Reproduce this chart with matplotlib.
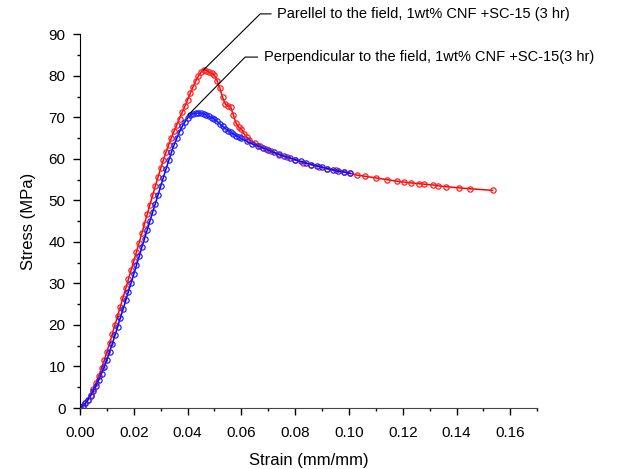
# -*- coding: utf-8 -*-
import matplotlib
matplotlib.use("Agg")
import matplotlib.pyplot as plt

plt.rcParams['font.family'] = ['Liberation Sans', 'DejaVu Sans']

# Parallel to the field (red)
par_strain = [0.000, 0.001, 0.002, 0.003, 0.004, 0.005, 0.006, 0.007, 0.008, 0.009,
              0.010, 0.011, 0.012, 0.013, 0.014, 0.015, 0.016, 0.017, 0.018, 0.019,
              0.020, 0.021, 0.022, 0.023, 0.024, 0.025, 0.026, 0.027, 0.028, 0.029,
              0.030, 0.031, 0.032, 0.033, 0.034, 0.035, 0.036, 0.037, 0.038, 0.039,
              0.040, 0.041, 0.042, 0.043, 0.044, 0.045, 0.046, 0.047, 0.048, 0.049,
              0.050, 0.051, 0.052, 0.053, 0.054, 0.055, 0.056, 0.057, 0.058, 0.059,
              0.060, 0.061, 0.062, 0.063, 0.065, 0.067, 0.069, 0.071, 0.074, 0.077,
              0.080, 0.083, 0.086, 0.089, 0.092, 0.095, 0.098, 0.1005, 0.1028, 0.106,
              0.110, 0.114, 0.118, 0.1205, 0.123, 0.126, 0.128, 0.1314, 0.133, 0.136,
              0.141, 0.145, 0.1534]
par_stress = [0.0, 0.4, 1.1, 2.0, 3.2, 4.6, 6.1, 7.8, 9.6, 11.5,
              13.5, 15.6, 17.8, 20.0, 22.2, 24.4, 26.6, 28.8, 31.0, 33.2,
              35.4, 37.6, 39.8, 42.1, 44.4, 46.7, 49.0, 51.2, 53.4, 55.6,
              57.7, 59.7, 61.6, 63.4, 65.1, 66.7, 68.2, 69.7, 71.2, 72.7,
              74.2, 75.8, 77.3, 78.7, 79.9, 80.9, 81.4, 81.2, 80.8, 80.6,
              80.1, 78.8, 77.0, 74.8, 73.2, 72.8, 72.4, 70.6, 68.6, 67.6,
              67.2, 66.0, 65.2, 64.6, 63.8, 63.0, 62.4, 61.8, 61.0, 60.4,
              59.7, 59.1, 58.6, 58.1, 57.6, 57.3, 56.9, 56.5, 56.1, 55.8,
              55.4, 55.0, 54.6, 54.4, 54.2, 54.0, 53.9, 53.7, 53.5, 53.3,
              53.0, 52.8, 52.4]

# Perpendicular to the field (blue)
perp_strain = [0.000, 0.001, 0.002, 0.003, 0.004, 0.005, 0.006, 0.007, 0.008, 0.009,
               0.010, 0.011, 0.012, 0.013, 0.014, 0.015, 0.016, 0.017, 0.018, 0.019,
               0.020, 0.021, 0.022, 0.023, 0.024, 0.025, 0.026, 0.027, 0.028, 0.029,
               0.030, 0.031, 0.032, 0.033, 0.034, 0.035, 0.036, 0.037, 0.038, 0.039,
               0.040, 0.041, 0.042, 0.043, 0.044, 0.045, 0.046, 0.047, 0.048, 0.049,
               0.050, 0.051, 0.052, 0.053, 0.054, 0.055, 0.056, 0.057, 0.058, 0.059,
               0.060, 0.062, 0.064, 0.066, 0.068, 0.070, 0.072, 0.074, 0.076, 0.078,
               0.080, 0.082, 0.084, 0.086, 0.088, 0.090, 0.092, 0.094, 0.096, 0.098,
               0.1005]
perp_stress = [0.0, 0.5, 1.2, 2.0, 3.0, 4.1, 5.4, 6.8, 8.3, 9.9,
               11.6, 13.5, 15.5, 17.5, 19.6, 21.7, 23.8, 25.9, 28.0, 30.1,
               32.2, 34.4, 36.5, 38.7, 40.8, 42.9, 45.0, 47.1, 49.2, 51.3,
               53.4, 55.5, 57.6, 59.6, 61.6, 63.4, 65.0, 66.5, 67.8, 68.9,
               69.8, 70.5, 70.9, 71.0, 71.0, 71.0, 70.8, 70.5, 70.2, 69.9,
               69.5, 69.0, 68.4, 67.8, 67.3, 66.8, 66.4, 66.0, 65.6, 65.2,
               64.9, 64.2, 63.6, 63.1, 62.6, 62.1, 61.6, 61.1, 60.6, 60.2,
               59.8, 59.4, 59.0, 58.6, 58.3, 58.0, 57.6, 57.3, 57.0, 56.8,
               56.5]

labels = ["Parellel to the field, 1wt% CNF +SC-15 (3 hr)",
          "Perpendicular to the field, 1wt% CNF +SC-15(3 hr)"]

fig = plt.figure(figsize=(6.41, 4.69), dpi=100)
ax = fig.add_axes([0.1248, 0.130, 0.7134, 0.797])

ax.plot(par_strain, par_stress, color='#ff0000', lw=1.1, marker='o', ms=3.8,
        mfc='none', mec='#ff2020', mew=0.9)
ax.plot(perp_strain, perp_stress, color='#0000ff', lw=1.1, marker='o', ms=3.8,
        mfc='none', mec='#2020ff', mew=0.9)

# leader lines + labels
lead = [((0.0459, 81.4), (0.0670, 94.9), (0.0710, 94.9), (0.0732, 94.9)),
        ((0.0403, 70.6), (0.0614, 84.5), (0.0660, 84.5), (0.0684, 84.5))]
for (p, e, h, t), lab in zip(lead, labels):
    ax.plot([p[0], e[0], h[0]], [p[1], e[1], h[1]], color='black', lw=0.8,
            clip_on=False)
    ax.text(t[0], t[1], lab, fontsize=10.5, ha='left', va='center')

ax.set_xlim(0, 0.17)
ax.set_ylim(0, 90)
ax.set_xticks([0.00, 0.02, 0.04, 0.06, 0.08, 0.10, 0.12, 0.14, 0.16])
ax.set_xticks([0.01, 0.03, 0.05, 0.07, 0.09, 0.11, 0.13, 0.15, 0.17], minor=True)
ax.set_xticklabels(["0.00", "0.02", "0.04", "0.06", "0.08", "0.10", "0.12", "0.14", "0.16"])
ax.set_yticks(range(0, 91, 10))
ax.set_yticks(range(5, 90, 10), minor=True)

for s in ['top', 'right']:
    ax.spines[s].set_visible(False)
ax.spines['left'].set_color('black')
ax.spines['bottom'].set_color('#444444')
ax.tick_params(which='major', length=5, width=1, labelsize=11, direction='out')
ax.tick_params(which='minor', length=2.5, width=1, direction='out')
ax.tick_params(axis='x', which='major', pad=8)
ax.tick_params(axis='y', which='major', pad=5.5)

ax.set_xlabel("Strain (mm/mm)", fontsize=12, labelpad=9)
ax.set_ylabel("Stress (MPa)", fontsize=12, labelpad=9)

fig.savefig("out.png", dpi=100)
